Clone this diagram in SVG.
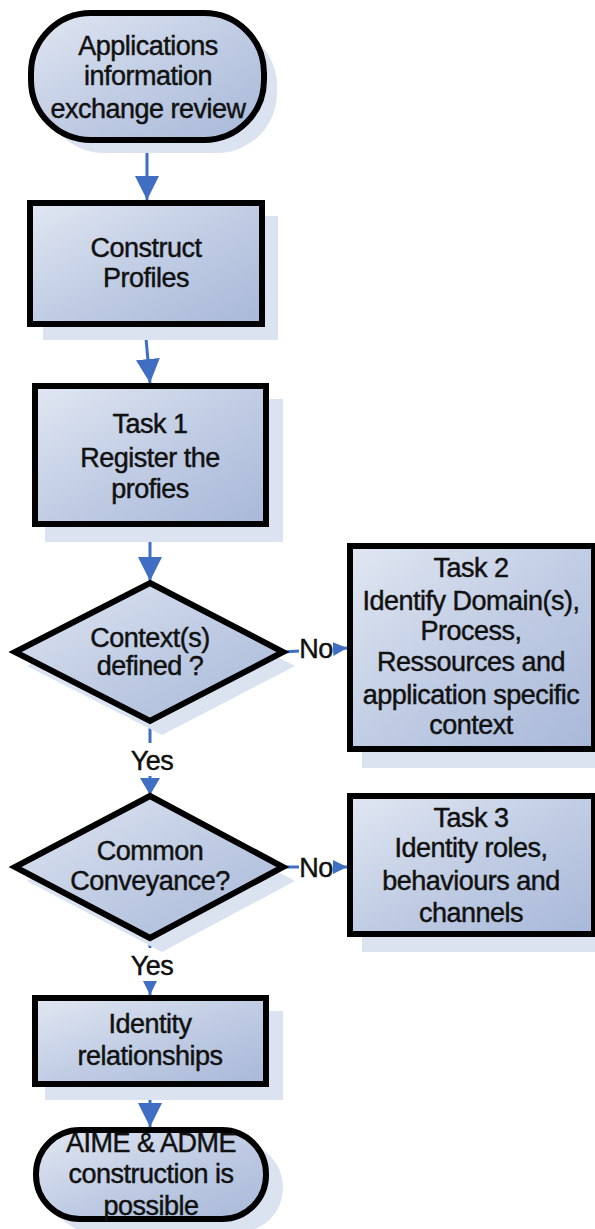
<svg xmlns="http://www.w3.org/2000/svg" width="595" height="1229" viewBox="0 0 595 1229">
<defs>
<linearGradient id="fill" x1="0" y1="0" x2="1" y2="1">
<stop offset="0" stop-color="#e1e7f2"/>
<stop offset="0.5" stop-color="#c1cde4"/>
<stop offset="1" stop-color="#a8b8d8"/>
</linearGradient>
<marker id="big" markerUnits="userSpaceOnUse" markerWidth="24" markerHeight="24" refX="22" refY="11" orient="auto" viewBox="0 0 22 22">
<path d="M0,0 L22,11 L0,22 z" fill="#3f6ec2"/>
</marker>
<marker id="mid" markerUnits="userSpaceOnUse" markerWidth="20" markerHeight="20" refX="17" refY="10" orient="auto" viewBox="0 0 17 20">
<path d="M0,0 L17,10 L0,20 z" fill="#3f6ec2"/>
</marker>
<marker id="small" markerUnits="userSpaceOnUse" markerWidth="14" markerHeight="14" refX="12" refY="6" orient="auto" viewBox="0 0 12 12">
<path d="M0,0 L12,6 L0,12 z" fill="#3f6ec2"/>
</marker>
</defs>
<style>
.shape{fill:url(#fill);stroke:#000;stroke-width:6;stroke-linejoin:miter}
.shadow{fill:#dbe3f0;stroke:none}
.t{font-family:"Liberation Sans",Arial,sans-serif;font-size:27px;fill:#111;stroke:#111;stroke-width:0.45px;text-anchor:middle;letter-spacing:-0.5px}
.c{fill:none;stroke:#3f6ec2;stroke-width:3}
</style>
<rect width="595" height="1229" fill="#fff"/>

<g id="connectors">
<path class="c" d="M147,143 L147,200" marker-end="url(#big)"/>
<path class="c" d="M145,327 L150,383" marker-end="url(#big)"/>
<path class="c" d="M150,527 L150,581" marker-end="url(#big)"/>
<path class="c" d="M150,721 L150,743"/>
<path class="c" d="M150,776 L150,795" marker-end="url(#mid)"/>
<path class="c" d="M283,652 L299,651"/>
<path class="c" d="M333,649 L347,648" marker-end="url(#small)"/>
<path class="c" d="M283,867 L299,867"/>
<path class="c" d="M333,867 L347,867" marker-end="url(#small)"/>
<path class="c" d="M150,938 L150,948"/>
<path class="c" d="M150,984 L150,995" marker-end="url(#small)"/>
<path class="c" d="M150,1087 L150,1127" marker-end="url(#big)"/>
<text class="t" x="152" y="770">Yes</text>
<text class="t" x="316" y="658">No</text>
<text class="t" x="316" y="877">No</text>
<text class="t" x="152" y="975">Yes</text>
</g>

<g id="start">
<rect class="shadow" x="44" y="26" width="233" height="127" rx="60"/>
<rect class="shape" x="31" y="13" width="233" height="127" rx="60"/>
<text class="t" x="148" y="55">Applications</text>
<text class="t" x="148" y="85">information</text>
<text class="t" x="148" y="118">exchange review</text>
</g>

<g id="construct">
<rect class="shadow" x="43" y="216" width="235" height="124"/>
<rect class="shape" x="30" y="203" width="232" height="121"/>
<text class="t" x="146" y="257">Construct</text>
<text class="t" x="146" y="287">Profiles</text>
</g>

<g id="task1">
<rect class="shadow" x="45" y="399" width="238" height="143"/>
<rect class="shape" x="35" y="386" width="231" height="138"/>
<text class="t" x="150" y="433">Task 1</text>
<text class="t" x="150" y="467">Register the</text>
<text class="t" x="150" y="498">profies</text>
</g>

<g id="context">
<polygon class="shadow" points="162,597 295,666 162,735 27,666"/>
<polygon class="shape" points="150,583 283,652 150,721 15,652"/>
<text class="t" x="150" y="647">Context(s)</text>
<text class="t" x="150" y="675">defined ?</text>
</g>

<g id="task2">
<rect class="shadow" x="362" y="560" width="240" height="208"/>
<rect class="shape" x="350" y="546" width="244" height="203"/>
<text class="t" x="471" y="577">Task 2</text>
<text class="t" x="471" y="610">Identify Domain(s),</text>
<text class="t" x="471" y="640">Process,</text>
<text class="t" x="471" y="671">Ressources and</text>
<text class="t" x="471" y="704">application specific</text>
<text class="t" x="471" y="734">context</text>
</g>

<g id="conveyance">
<polygon class="shadow" points="162,810 295,881 162,952 27,881"/>
<polygon class="shape" points="150,796 283,867 150,938 15,867"/>
<text class="t" x="150" y="860">Common</text>
<text class="t" x="150" y="890">Conveyance?</text>
</g>

<g id="task3">
<rect class="shadow" x="362" y="810" width="240" height="142"/>
<rect class="shape" x="350" y="796" width="244" height="138"/>
<text class="t" x="471" y="827">Task 3</text>
<text class="t" x="471" y="857">Identity roles,</text>
<text class="t" x="471" y="890">behaviours and</text>
<text class="t" x="471" y="922">channels</text>
</g>

<g id="relationships">
<rect class="shadow" x="45" y="1011" width="238" height="89"/>
<rect class="shape" x="35" y="998" width="231" height="86"/>
<text class="t" x="150" y="1033">Identity</text>
<text class="t" x="150" y="1065">relationships</text>
</g>

<g id="end">
<rect class="shadow" x="49" y="1143" width="234" height="89" rx="44"/>
<rect class="shape" x="36" y="1130" width="230" height="89" rx="44"/>
<text class="t" x="151" y="1152">AIME &amp; ADME</text>
<text class="t" x="151" y="1183">construction is</text>
<text class="t" x="151" y="1215">possible</text>
</g>
</svg>
